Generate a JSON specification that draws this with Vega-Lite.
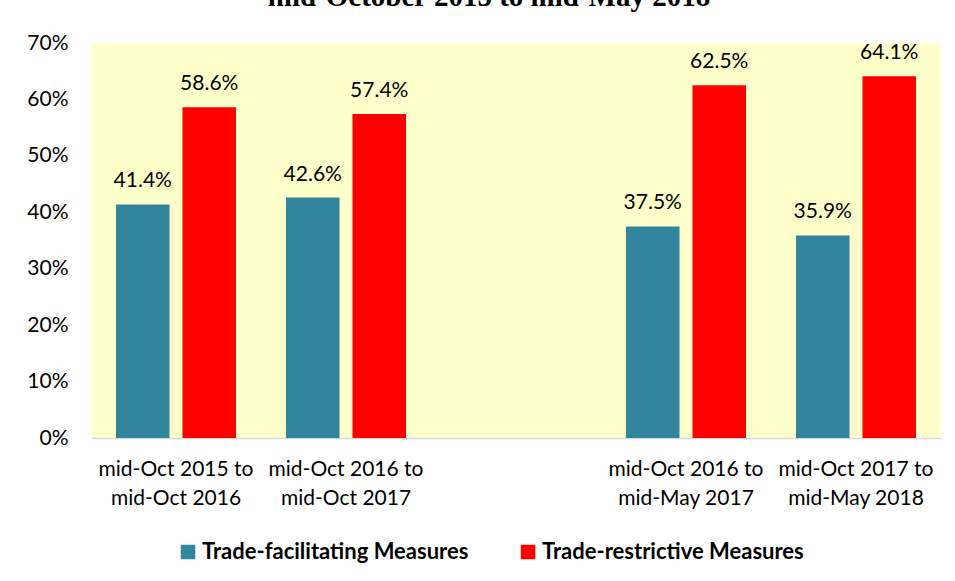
{
  "$schema": "https://vega.github.io/schema/vega-lite/v6.json",
  "width": 850,
  "height": 395,
  "autosize": "none",
  "padding": {"left": 91, "top": 43, "right": 14, "bottom": 143},
  "background": "white",
  "title": {
    "text": "mid-October 2015 to mid-May 2018",
    "font": "Liberation Serif",
    "fontWeight": "bold",
    "fontSize": 29,
    "color": "black",
    "anchor": "middle",
    "frame": "group",
    "baseline": "alphabetic",
    "offset": 1,
    "dy": 4,
    "dx": -27
  },
  "config": {
    "view": {"fill": "#FFFFCC", "stroke": null},
    "font": "Lato"
  },
  "data": {
    "values": [
      {"period": "mid-Oct 2015 to\nmid-Oct 2016", "measure": "Trade-facilitating Measures", "share": 0.414},
      {"period": "mid-Oct 2015 to\nmid-Oct 2016", "measure": "Trade-restrictive Measures", "share": 0.586},
      {"period": "mid-Oct 2016 to\nmid-Oct 2017", "measure": "Trade-facilitating Measures", "share": 0.426},
      {"period": "mid-Oct 2016 to\nmid-Oct 2017", "measure": "Trade-restrictive Measures", "share": 0.574},
      {"period": "mid-Oct 2016 to\nmid-May 2017", "measure": "Trade-facilitating Measures", "share": 0.375},
      {"period": "mid-Oct 2016 to\nmid-May 2017", "measure": "Trade-restrictive Measures", "share": 0.625},
      {"period": "mid-Oct 2017 to\nmid-May 2018", "measure": "Trade-facilitating Measures", "share": 0.359},
      {"period": "mid-Oct 2017 to\nmid-May 2018", "measure": "Trade-restrictive Measures", "share": 0.641}
    ]
  },
  "encoding": {
    "x": {
      "field": "period",
      "type": "nominal",
      "sort": null,
      "scale": {
        "domain": ["mid-Oct 2015 to\nmid-Oct 2016", "mid-Oct 2016 to\nmid-Oct 2017", " ", "mid-Oct 2016 to\nmid-May 2017", "mid-Oct 2017 to\nmid-May 2018"],
        "paddingInner": 0,
        "paddingOuter": 0
      },
      "axis": {
        "title": null,
        "labelAngle": 0,
        "ticks": false,
        "domain": true,
        "domainColor": "#D9D9D9",
        "domainWidth": 1.5,
        "labelFont": "Lato",
        "labelFontSize": 21,
        "labelColor": "black",
        "labelPadding": 20,
        "labelLineHeight": 29,
        "labelLimit": 300,
        "labelExpr": "split(datum.label, '\\n')"
      }
    },
    "xOffset": {
      "field": "measure",
      "type": "nominal",
      "scale": {"paddingInner": 0.195, "paddingOuter": 0.376}
    },
    "y": {
      "field": "share",
      "type": "quantitative",
      "scale": {"domain": [0, 0.7], "nice": false},
      "axis": {
        "title": null,
        "format": ".0%",
        "values": [0, 0.1, 0.2, 0.3, 0.4, 0.5, 0.6, 0.7],
        "grid": false,
        "domain": false,
        "ticks": false,
        "labelPadding": 23,
        "labelFont": "Lato",
        "labelFontSize": 21,
        "labelColor": "black"
      }
    }
  },
  "layer": [
    {
      "mark": {"type": "bar"},
      "encoding": {
        "color": {
          "field": "measure",
          "type": "nominal",
          "scale": {
            "domain": ["Trade-facilitating Measures", "Trade-restrictive Measures"],
            "range": ["#31859C", "#FF0000"]
          },
          "legend": {
            "title": null,
            "orient": "none",
            "direction": "horizontal",
            "legendX": 86,
            "legendY": 498,
            "symbolType": "square",
            "symbolSize": 210,
            "symbolStrokeWidth": 0,
            "symbolOpacity": 1,
            "labelFont": "Lato",
            "labelFontWeight": "bold",
            "labelFontSize": 22,
            "labelColor": "black",
            "labelLimit": 400,
            "labelOffset": 3,
            "columnPadding": 48
          }
        }
      }
    },
    {
      "mark": {"type": "text", "baseline": "alphabetic", "dy": -17, "fontSize": 21, "font": "Lato", "color": "black"},
      "encoding": {
        "text": {"field": "share", "type": "quantitative", "format": ".1%"}
      }
    }
  ]
}
